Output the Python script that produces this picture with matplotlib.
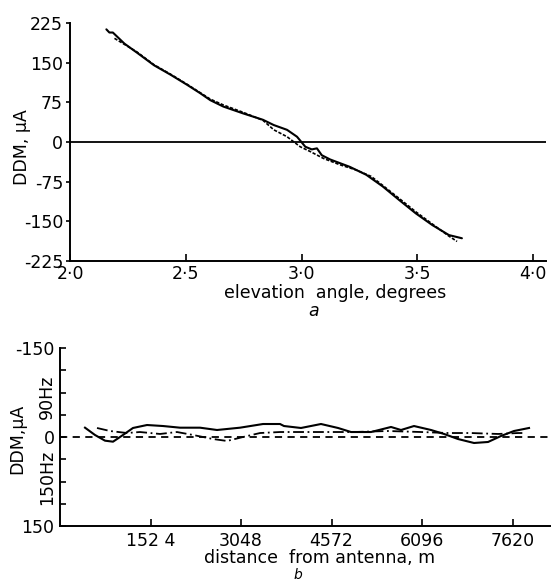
import matplotlib
matplotlib.use("Agg")
import matplotlib.pyplot as plt

# ---------------- data: panel a ----------------
a_solid_x = [2.157, 2.17, 2.185, 2.235, 2.292, 2.363, 2.435, 2.506, 2.563, 2.606, 2.662,
             2.748, 2.833, 2.880, 2.937, 2.980, 3.016, 3.044, 3.066, 3.087, 3.123, 3.208,
             3.279, 3.350, 3.422, 3.493, 3.564, 3.636, 3.692]
a_solid_y = [213, 207, 207, 186, 168, 145, 127, 108, 92, 79, 67,
             54, 42, 32, 23, 10, -9, -14, -12, -25, -33, -47,
             -62, -84, -110, -135, -157, -176, -182]
a_dot_x = [2.192, 2.29, 2.363, 2.435, 2.506, 2.563, 2.606, 2.662, 2.748, 2.833, 2.880,
           2.937, 2.994, 3.037, 3.094, 3.165, 3.236, 3.30, 3.35, 3.422, 3.493, 3.564,
           3.636, 3.671]
a_dot_y = [196, 170, 146, 128, 109, 93, 81, 70, 56, 41, 23,
           10, -9, -18, -31, -43, -53, -65, -82, -107, -132, -155,
           -178, -188]
a_xticks = [2.0, 2.5, 3.0, 3.5, 4.0]
a_xticklabels = ["2·0", "2·5", "3·0", "3·5", "4·0"]
a_yticks = [225, 150, 75, 0, -75, -150, -225]
a_yticklabels = ["225", "150", "75", "0", "-75", "-150", "-225"]

# ---------------- data: panel b ----------------
b_solid_x = [421, 589, 758, 893, 1061, 1229, 1465, 1735, 2021, 2358, 2644, 3031, 3419,
             3705, 3772, 4058, 4395, 4682, 4900, 5237, 5574, 5742, 5961, 6248, 6467,
             6702, 6972, 7208, 7426, 7645, 7898]
b_solid_y = [-15.7, -3.4, 6.2, 7.9, -3.4, -15.2, -20.2, -18.5, -15.7, -15.7, -11.8, -15.7,
             -21.9, -21.9, -18.5, -15.2, -21.9, -15.2, -8.4, -8.4, -16.9, -11.8, -18.5,
             -11.8, -5.1, 3.4, 10.1, 8.4, -1.7, -10.1, -15.2]
b_dash_x = [623, 842, 1128, 1347, 1684, 1970, 2240, 2577, 2812, 3082, 3368, 3705, 4395,
            4951, 5524, 6079, 6534, 6921, 7376, 7713, 7814]
b_dash_y = [-15.2, -10.1, -6.7, -8.4, -5.1, -8.4, -3.4, 3.4, 6.7, 0, -6.7, -8.4, -8.4,
            -8.4, -10.1, -8.4, -6.7, -6.7, -5.1, -6.7, -6.7]
b_xticks = [1524, 3048, 4572, 6096, 7620]
b_xticklabels = ["152 4", "3048", "4572", "6096", "7620"]
b_yticks = [-150, -112.5, -75, -37.5, 0, 37.5, 75, 112.5, 150]
b_yticklabels = ["-150", "", "", "", "0", "", "", "", "150"]

W, H = 551, 583
FS = 12.5
plt.rcParams['font.family'] = ['DejaVu Sans']

fig = plt.figure(figsize=(W / 100, H / 100), dpi=100)
fig.patch.set_facecolor("white")


def px(x, y):
    return x / W, 1 - y / H


# ---------- panel a ----------
ax1 = fig.add_axes([70 / W, 1 - 261 / H, 476 / W, 238 / H])
ax1.set_xlim(2.0, 4.055)
ax1.set_ylim(-225, 225)
ax1.axhline(0, color="black", lw=1.3)
ax1.plot(a_solid_x, a_solid_y, color="black", lw=1.5, solid_capstyle="round")
ax1.plot(a_dot_x, a_dot_y, color="black", lw=1.2, linestyle=(0, (2, 1)))
ax1.set_xticks(a_xticks)
ax1.set_xticklabels(a_xticklabels, fontsize=FS)
ax1.set_yticks(a_yticks)
ax1.set_yticklabels(a_yticklabels, fontsize=FS)
ax1.tick_params(axis="x", direction="in", length=5, width=1.2, pad=3)
ax1.tick_params(axis="y", direction="out", length=3, width=1.2, pad=2)
for s in ["top", "right"]:
    ax1.spines[s].set_visible(False)
for s in ["left", "bottom"]:
    ax1.spines[s].set_linewidth(1.4)

fig.text(*px(22, 147), "DDM, μA", rotation=90, ha="center", va="center", fontsize=FS)
fig.text(*px(335, 293), "elevation  angle, degrees", ha="center", va="center", fontsize=FS)
fig.text(*px(314, 311), "a", ha="center", va="center", fontsize=FS, style="italic")

# ---------- panel b ----------
ax2 = fig.add_axes([60 / W, 1 - 526 / H, 491 / W, 178 / H])
ax2.set_xlim(0, 8268)
ax2.set_ylim(150, -150)
ax2.axhline(0, color="black", lw=1.3, linestyle=(0, (4, 3)))
ax2.plot(b_solid_x, b_solid_y, color="black", lw=1.5)
ax2.plot(b_dash_x, b_dash_y, color="black", lw=1.3, linestyle=(0, (6, 2, 1, 2)))
ax2.set_xticks(b_xticks)
ax2.set_xticklabels(b_xticklabels, fontsize=FS)
ax2.set_yticks(b_yticks)
ax2.set_yticklabels(b_yticklabels, fontsize=FS)
ax2.tick_params(axis="x", direction="in", length=5, width=1.2, pad=4)
ax2.tick_params(axis="y", direction="in", length=4, width=1.2, pad=4)
for s in ["top", "right"]:
    ax2.spines[s].set_visible(False)
for s in ["left", "bottom"]:
    ax2.spines[s].set_linewidth(1.4)

fig.text(*px(17, 439), "DDM,μA", rotation=90, ha="center", va="center", fontsize=FS)
fig.text(*px(47, 397), "90Hz", rotation=90, ha="center", va="center", fontsize=FS)
fig.text(*px(47, 477), "150Hz", rotation=90, ha="center", va="center", fontsize=FS)
fig.text(*px(320, 558), "distance  from antenna, m", ha="center", va="center", fontsize=FS)
fig.text(*px(298, 582), "b", ha="center", va="bottom", fontsize=10, style="italic")

fig.savefig("out.png", dpi=100, facecolor="white")
